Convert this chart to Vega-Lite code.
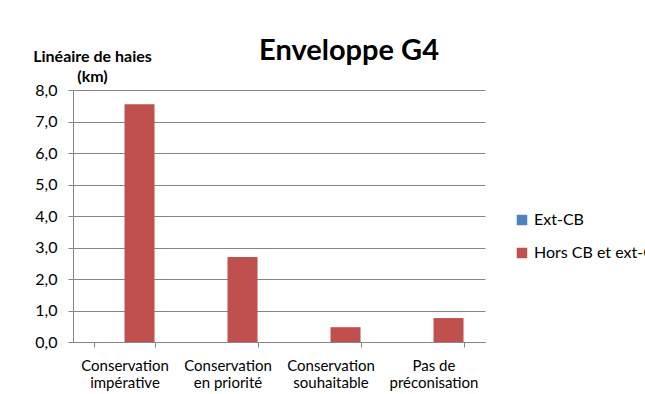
{
  "$schema": "https://vega.github.io/schema/vega-lite/v6.json",
  "width": 412,
  "height": 252,
  "autosize": {"type": "none"},
  "padding": {"left": 73, "top": 90, "right": 160, "bottom": 52},
  "background": "white",
  "title": {
    "text": "Enveloppe G4",
    "font": "Lato",
    "fontSize": 29,
    "fontWeight": "bold",
    "color": "#000000",
    "anchor": "middle",
    "frame": "group",
    "dx": 70,
    "baseline": "alphabetic",
    "offset": -41
  },
  "data": {
    "values": [
      {"categorie": "Conservation impérative", "serie": "Ext-CB", "km": 0},
      {"categorie": "Conservation impérative", "serie": "Hors CB et ext-CB", "km": 7.55},
      {"categorie": "Conservation en priorité", "serie": "Ext-CB", "km": 0},
      {"categorie": "Conservation en priorité", "serie": "Hors CB et ext-CB", "km": 2.7},
      {"categorie": "Conservation souhaitable", "serie": "Ext-CB", "km": 0},
      {"categorie": "Conservation souhaitable", "serie": "Hors CB et ext-CB", "km": 0.47},
      {"categorie": "Pas de préconisation", "serie": "Ext-CB", "km": 0},
      {"categorie": "Pas de préconisation", "serie": "Hors CB et ext-CB", "km": 0.76}
    ]
  },
  "mark": {"type": "bar"},
  "encoding": {
    "x": {
      "field": "categorie",
      "type": "nominal",
      "sort": null,
      "scale": {"paddingInner": 0.417, "paddingOuter": 0.2085},
      "axis": {
        "title": null,
        "labelAngle": 0,
        "tickBand": "extent",
        "tickSize": 5,
        "tickColor": "#868686",
        "domainColor": "#868686",
        "labelFont": "Lato",
        "labelFontSize": 15,
        "labelColor": "#000000",
        "labelPadding": 11,
        "labelLineHeight": 17,
        "labelLimit": 200,
        "labelExpr": "datum.label == 'Pas de préconisation' ? ['Pas de', 'préconisation'] : [slice(datum.label, 0, indexof(datum.label, ' ')), slice(datum.label, indexof(datum.label, ' ') + 1)]"
      }
    },
    "xOffset": {"field": "serie", "type": "nominal", "scale": {"paddingInner": 0, "paddingOuter": 0}},
    "y": {
      "field": "km",
      "type": "quantitative",
      "scale": {"domain": [0, 8], "nice": false},
      "axis": {
        "values": [0, 1, 2, 3, 4, 5, 6, 7, 8],
        "labelExpr": "replace(format(datum.value, '.1f'), '.', ',')",
        "title": ["Linéaire de haies", "(km)"],
        "titleAngle": 0,
        "titleAlign": "center",
        "titleBaseline": "alphabetic",
        "titleX": 19,
        "titleY": -29,
        "titleFont": "Lato",
        "titleFontSize": 16,
        "titleFontWeight": "bold",
        "titleLineHeight": 20,
        "titleColor": "#000000",
        "labelFont": "Lato",
        "labelFontSize": 16,
        "labelColor": "#000000",
        "labelPadding": 11,
        "tickSize": 5,
        "tickColor": "#868686",
        "domainColor": "#868686",
        "gridColor": "#868686",
        "grid": true
      }
    },
    "color": {
      "field": "serie",
      "type": "nominal",
      "scale": {"domain": ["Ext-CB", "Hors CB et ext-CB"], "range": ["#4F81BD", "#C0504D"]},
      "legend": {
        "title": null,
        "orient": "none",
        "legendX": 441,
        "legendY": 122,
        "symbolType": "square",
        "symbolSize": 110,
        "symbolStrokeWidth": 0,
        "labelFont": "Lato",
        "labelFontSize": 16,
        "labelColor": "#000000",
        "labelOffset": 4,
        "rowPadding": 17,
        "labelLimit": 300
      }
    }
  },
  "config": {
    "view": {"stroke": null},
    "axis": {"domainWidth": 1, "gridWidth": 1}
  }
}
